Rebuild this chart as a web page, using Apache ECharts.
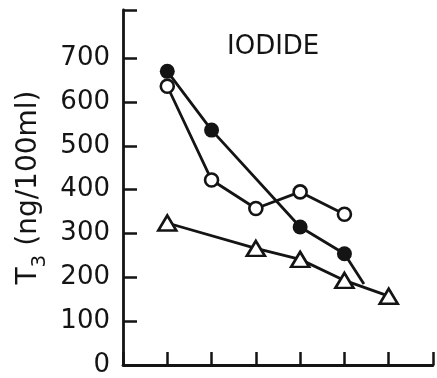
<!DOCTYPE html>
<html>
<head>
<meta charset="utf-8">
<script src="https://cdn.jsdelivr.net/npm/echarts@6/dist/echarts.min.js"></script>
<style>
html,body{margin:0;padding:0;background:#fff;}
#chart{width:437px;height:378px;}
</style>
</head>
<body>
<div id="chart"></div>
<script>
// Data (x = time index, y = T3 ng/100ml)
const filledX = [1, 2, 4, 5, 5.44];
const filledY = [670, 536, 315, 254, 185];
const openX = [1, 2, 3, 4, 5];
const openY = [636, 422, 357, 395, 344];
const triX = [1, 3, 4, 5, 6];
const triY = [324, 266, 241, 193, 157];
const yTickValues = [0, 100, 200, 300, 400, 500, 600, 700, 810];
const yLabelValues = [0, 100, 200, 300, 400, 500, 600, 700];
const titleText = 'IODIDE';

const INK = '#141414';
const FONT = 'DejaVu Sans';

function pairs(xs, ys) { return xs.map((x, i) => [x, ys[i]]); }

const filledData = pairs(filledX, filledY).map((p, i, arr) =>
  i === arr.length - 1 ? { value: p, symbol: 'none' } : p);

const chart = echarts.init(document.getElementById('chart'), null, { renderer: 'canvas' });
chart.setOption({
  backgroundColor: '#fff',
  animation: false,
  title: {
    text: titleText,
    left: 227,
    top: 34,
    padding: 0,
    textStyle: { fontFamily: FONT, fontSize: 26, fontWeight: 'normal', color: INK }
  },
  grid: { left: 123, right: 4, top: 10, bottom: 5, containLabel: false },
  xAxis: {
    type: 'value', min: 0, max: 7, interval: 1,
    axisLine: { show: true, lineStyle: { color: INK, width: 2.8 } },
    axisTick: { show: true, inside: true, length: 13, lineStyle: { color: INK, width: 2.5 } },
    axisLabel: { show: false },
    splitLine: { show: false }
  },
  yAxis: {
    type: 'value', min: 0, max: 810,
    axisLine: { show: true, lineStyle: { color: INK, width: 2.8 } },
    axisTick: { show: true, inside: true, length: 14, customValues: yTickValues,
                lineStyle: { color: INK, width: 2.5 } },
    axisLabel: { show: true, customValues: yLabelValues, margin: 13,
                 fontFamily: FONT, fontSize: 26, color: INK },
    splitLine: { show: false },
    name: '{t|T}{s|3}{t| (ng/100ml)}',
    nameLocation: 'middle',
    nameRotate: 90,
    nameGap: 80,
    nameTextStyle: {
      rich: {
        t: { fontFamily: FONT, fontSize: 28, color: INK, verticalAlign: 'bottom' },
        s: { fontFamily: FONT, fontSize: 20, color: INK, verticalAlign: 'bottom', padding: [0, 0, -7, 0] }
      }
    }
  },
  series: [
    {
      type: 'line', data: filledData,
      symbol: 'circle', symbolSize: 15,
      itemStyle: { color: INK },
      lineStyle: { color: INK, width: 2.8 },
      clip: false
    },
    {
      type: 'line', data: pairs(openX, openY),
      symbol: 'circle', symbolSize: 13,
      itemStyle: { color: '#fff', borderColor: INK, borderWidth: 2.6 },
      lineStyle: { color: INK, width: 2.8 },
      clip: false
    },
    {
      type: 'line', data: pairs(triX, triY),
      symbol: 'triangle', symbolSize: [18, 15],
      itemStyle: { color: '#fff', borderColor: INK, borderWidth: 2.6 },
      lineStyle: { color: INK, width: 2.8 },
      clip: false
    }
  ]
});
</script>
</body>
</html>
